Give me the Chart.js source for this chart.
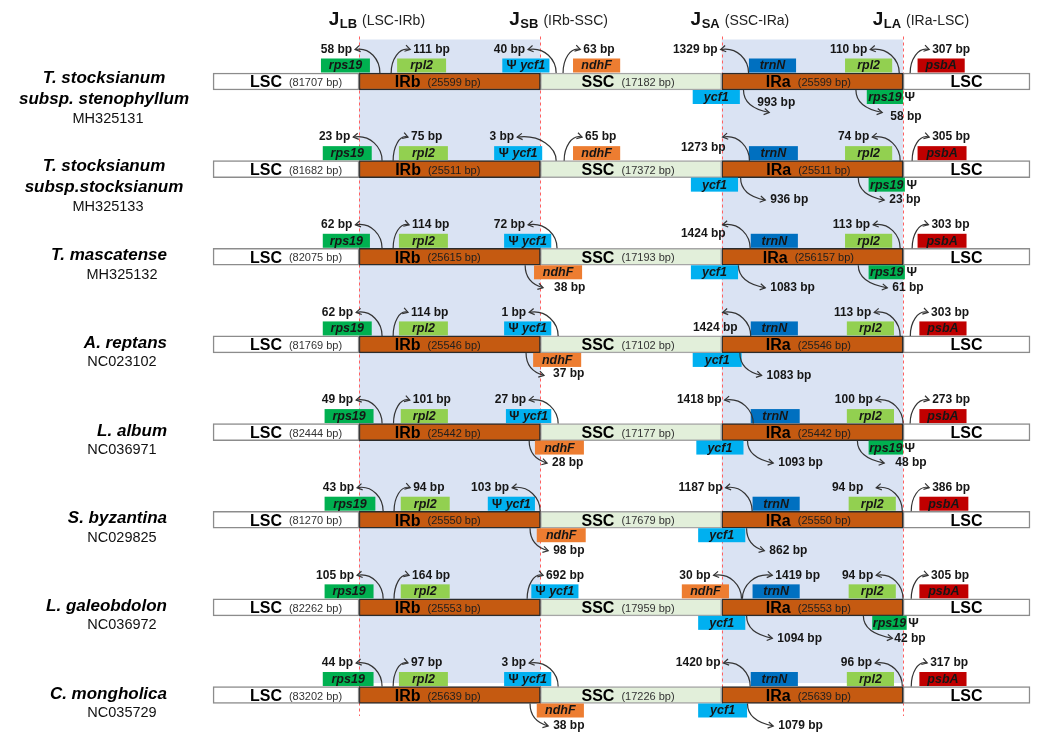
<!DOCTYPE html>
<html lang="en">
<head>
<meta charset="UTF-8">
<title>IR boundaries of Lamiaceae plastomes</title>
<script src="https://cdn.jsdelivr.net/npm/chart.js"></script>
<style>
  html, body { margin: 0; padding: 0; background: #fff; }
  .chart-box { width: 1042px; height: 732px; position: relative; }
</style>
</head>
<body>
<div class="chart-box"><canvas id="irChart"></canvas></div>
<script>
// one row per plastome
const species = [
  ['T. stocksianum', 'subsp. stenophyllum'],
  ['T. stocksianum', 'subsp.stocksianum'],
  ['T. mascatense'],
  ['A. reptans'],
  ['L. album'],
  ['S. byzantina'],
  ['L. galeobdolon'],
  ['C. mongholica']
];
const accessions = ['MH325131', 'MH325133', 'MH325132', 'NC023102', 'NC036971', 'NC029825', 'NC036972', 'NC035729'];

// region lengths (bp)
const lscLen = [81707, 81682, 82075, 81769, 82444, 81270, 82262, 83202];
const irbLen = [25599, 25511, 25615, 25546, 25442, 25550, 25553, 25639];
const sscLen = [17182, 17372, 17193, 17102, 17177, 17679, 17959, 17226];
const iraLen = [25599, 25511, 256157, 25546, 25442, 25550, 25553, 25639];

// schematic axis: junctions JLB, JSB, JSA, JLA at 100, 200, 300, 400
const regionNames = ['LSC', 'IRb', 'SSC', 'IRa', 'LSC'];
const regionEdges = [19.5, 100, 200, 300, 400, 470];
const junctions = [['LB', '(LSC-IRb)'], ['SB', '(IRb-SSC)'], ['SA', '(SSC-IRa)'], ['LA', '(IRa-LSC)']];

// genes next to the junctions: [name, from, to, side (T above / B below), pseudo]
const genes = [
  [['rps19',79,106,'T'],['rpl2',121,148,'T'],['ycf1',179,205,'T','psiIn'],['ndhF',218,244,'T'],['trnN',315,341,'T'],['rpl2',368,394,'T'],['psbA',408,434,'T'],['ycf1',284,310,'B'],['rps19',380,400,'B','psiOut']],
  [['rps19',80,107,'T'],['rpl2',122,149,'T'],['ycf1',174.5,201,'T','psiIn'],['ndhF',218,244,'T'],['trnN',315,342,'T'],['rpl2',368,394,'T'],['psbA',408,435,'T'],['ycf1',283,309,'B'],['rps19',381,401,'B','psiOut']],
  [['rps19',80,106,'T'],['rpl2',122,149,'T'],['ycf1',180,206,'T','psiIn'],['ndhF',196.5,223,'B'],['trnN',316,342,'T'],['rpl2',368,394,'T'],['psbA',408,435,'T'],['ycf1',283,309,'B'],['rps19',381,401,'B','psiOut']],
  [['rps19',80,107,'T'],['rpl2',122,149,'T'],['ycf1',180,206,'T','psiIn'],['ndhF',196,222.5,'B'],['trnN',316,342,'T'],['rpl2',369,395,'T'],['psbA',409,435,'T'],['ycf1',284,311,'B']],
  [['rps19',81,108,'T'],['rpl2',123,149,'T'],['ycf1',181,206,'T','psiIn'],['ndhF',197,224,'B'],['trnN',316,343,'T'],['rpl2',369,395,'T'],['psbA',409,435,'T'],['ycf1',286,312,'B'],['rps19',381,400,'B','psiOut']],
  [['rps19',81,109,'T'],['rpl2',123,150,'T'],['ycf1',171,197,'T','psiIn'],['ndhF',198,225,'B'],['trnN',317,343,'T'],['rpl2',370,396,'T'],['psbA',409,436,'T'],['ycf1',287,313,'B']],
  [['rps19',81,108,'T'],['rpl2',123,150,'T'],['ycf1',195,221,'T','psiIn'],['ndhF',278,304,'T'],['trnN',317,343,'T'],['rpl2',370,396,'T'],['psbA',409,436,'T'],['ycf1',287,313,'B'],['rps19',383,402,'B','psiOut']],
  [['rps19',80,108,'T'],['rpl2',122,149,'T'],['ycf1',180,206,'T','psiIn'],['ndhF',198,224,'B'],['trnN',316,342,'T'],['rpl2',369,395,'T'],['psbA',409,435,'T'],['ycf1',287,314,'B']]
];

// distances to the junctions: [bp, arrow tail, arrow head, U up / D down, label dx, label dy]
const spans = [
  [[58,111.5,97.8,'U'],[111,117.7,128.2,'U'],[40,208.7,193.2,'U'],[63,212.5,222,'U'],[1329,314.8,299.4,'U'],[110,397.9,381.9,'U'],[307,403.9,414.4,'U'],[993,312,326.2,'D',-17,-10],[58,374,388.5,'D',3,4]],
  [[23,112.7,96.8,'U'],[75,118.8,127,'U'],[3,208.7,187.2,'U'],[65,213.1,223,'U'],[1273,315.3,300.5,'U',6,11],[74,398.4,383,'U'],[305,405,414.4,'U'],[936,310.4,324,'D'],[23,375.3,389.6,'D']],
  [[62,112.7,98,'U'],[114,118.8,127.6,'U'],[72,209.2,193.2,'U'],[38,191.6,201.5,'D',6,0],[1424,315.7,300.5,'U',6,9],[113,398.4,383.5,'U'],[303,405,414,'U'],[1083,309.2,324,'D'],[61,375.3,391.3,'D']],
  [[62,112.7,98.4,'U'],[114,118.8,127,'U'],[1,209.8,193.8,'U'],[37,192.1,202,'D',4,-2],[1424,316,300.5,'U',18,15],[113,398.4,384.1,'U'],[303,404,413.8,'U'],[1083,310,322,'D']],
  [[49,112.7,98.4,'U'],[101,119,128,'U'],[27,209.8,193.8,'U'],[28,193.8,203.7,'D'],[1418,317.4,301.6,'U'],[100,400,385,'U'],[273,403.9,414.4,'U'],[1093,314.2,328.4,'D'],[48,374.8,389.6,'D',6,0]],
  [[43,113.3,98.9,'U'],[94,119.3,128.2,'U'],[103,199.9,184.4,'U'],[98,194.3,204.3,'D'],[1187,316.8,302.1,'U'],[94,399.6,385.2,'U',-10,0],[386,404.5,414.4,'U'],[862,313.7,323.5,'D']],
  [[105,113.3,98.9,'U'],[164,119.3,127.6,'U'],[692,192.7,201.5,'U'],[30,310.9,295.5,'U'],[1419,311.4,327.9,'U'],[94,400,385.2,'U'],[305,404.5,413.8,'U'],[1094,313.7,327.9,'D'],[42,378.1,394.1,'D',-3,0]],
  [[44,112.7,98.4,'U'],[97,118.8,127,'U'],[3,209.8,193.8,'U'],[38,194.3,204.3,'D'],[1420,315.7,301,'U'],[96,399.6,384.6,'U'],[317,404.5,413.3,'U'],[1079,314.2,328.4,'D']]
];

const regionFill = ['#ffffff', '#c55a11', '#e2efda', '#c55a11', '#ffffff'];
const regionStroke = ['#8c8c8c', '#2b2b2b', '#a6a6a6', '#2b2b2b', '#8c8c8c'];
const regionLens = [lscLen, irbLen, sscLen, iraLen, null];
const labelShift = [10, -12, -3, -4, 0];
const geneColors = { rps19: '#00b050', rpl2: '#92d050', ycf1: '#00b0f0', ndhF: '#ed7d31', trnN: '#0070c0', psbA: '#c00000' };
const FONT = '"Liberation Sans", Arial, sans-serif';
const BAR = 17;

const diagram = {
  id: 'irDiagram',
  beforeDatasetsDraw(chart) {
    const ctx = chart.ctx;
    const x = chart.scales.x, y = chart.scales.y;
    const top = y.getPixelForValue(0) - 42;
    const bottom = y.getPixelForValue(species.length - 1) - 12;
    ctx.save();
    // inverted repeats shading
    ctx.fillStyle = '#dae3f3';
    [[100, 200], [300, 400]].forEach(([a, b]) => {
      ctx.fillRect(x.getPixelForValue(a), top, x.getPixelForValue(b) - x.getPixelForValue(a), bottom - top);
    });
    // junction lines
    ctx.strokeStyle = '#ff6060';
    ctx.lineWidth = 1;
    ctx.setLineDash([3, 3]);
    [100, 200, 300, 400].forEach(v => {
      const px = Math.round(x.getPixelForValue(v)) + 0.5;
      ctx.beginPath();
      ctx.moveTo(px, top - 3);
      ctx.lineTo(px, y.getPixelForValue(species.length - 1) + 21);
      ctx.stroke();
    });
    ctx.restore();
  },
  afterDatasetsDraw(chart) {
    const ctx = chart.ctx;
    const x = chart.scales.x, y = chart.scales.y;
    ctx.save();
    ctx.textBaseline = 'middle';

    // region names and lengths
    regionNames.forEach((name, r) => {
      const meta = chart.getDatasetMeta(r);
      meta.data.forEach((bar, i) => {
        const lens = regionLens[r];
        const sub = lens ? '(' + lens[i] + ' bp)' : '';
        ctx.font = 'bold 16px ' + FONT;
        const w1 = ctx.measureText(name).width;
        ctx.font = '11px ' + FONT;
        const w2 = sub ? ctx.measureText(sub).width + 7 : 0;
        const cx = (bar.base + bar.x) / 2 + labelShift[r];
        let sx = cx - (w1 + w2) / 2;
        ctx.textAlign = 'left';
        ctx.fillStyle = '#000';
        ctx.font = 'bold 16px ' + FONT;
        ctx.fillText(name, sx, bar.y + 1.5);
        if (sub) {
          ctx.font = '11px ' + FONT;
          ctx.fillStyle = r === 1 || r === 3 ? '#1e1e1e' : '#333';
          ctx.fillText(sub, sx + w1 + 7, bar.y + 1.5);
        }
      });
    });

    // gene boxes
    genes.forEach((row, i) => {
      const c = y.getPixelForValue(i);
      row.forEach(([name, a, b, side, pseudo]) => {
        const x0 = x.getPixelForValue(a), x1 = x.getPixelForValue(b);
        const y0 = side === 'T' ? c - BAR / 2 - 14.5 : c + BAR / 2;
        ctx.fillStyle = geneColors[name];
        ctx.fillRect(x0, y0, x1 - x0, 14);
        ctx.fillStyle = '#161616';
        const cy = y0 + 7.5;
        if (pseudo === 'psiIn') {
          ctx.font = 'bold 12.5px ' + FONT;
          const wp = ctx.measureText('\u03a8 ').width;
          ctx.font = 'italic bold 12.5px ' + FONT;
          const wn = ctx.measureText(name).width;
          const sx = (x0 + x1) / 2 - (wp + wn) / 2;
          ctx.textAlign = 'left';
          ctx.font = 'bold 12.5px ' + FONT;
          ctx.fillText('\u03a8 ', sx, cy);
          ctx.font = 'italic bold 12.5px ' + FONT;
          ctx.fillText(name, sx + wp, cy);
        } else {
          ctx.textAlign = 'center';
          ctx.font = 'italic bold 12.5px ' + FONT;
          ctx.fillText(name, (x0 + x1) / 2, cy);
          if (pseudo === 'psiOut') {
            ctx.textAlign = 'left';
            ctx.font = 'bold 13px ' + FONT;
            ctx.fillText('\u03a8', x1 + 1.5, cy);
          }
        }
      });
    });

    // curved arrows with distances
    ctx.strokeStyle = '#333';
    ctx.lineWidth = 1.2;
    spans.forEach((row, i) => {
      const c = y.getPixelForValue(i);
      row.forEach(([bp, tail, head, dir, dx, dy]) => {
        const tx = x.getPixelForValue(tail), hx = x.getPixelForValue(head);
        const ty = dir === 'U' ? c - BAR / 2 : c + BAR / 2;
        const hy = dir === 'U' ? c - 32 : c + 31;
        const c1x = tx, c1y = ty + (hy - ty) * 0.55;
        const c2x = tx + (hx - tx) * 0.4, c2y = hy - 3;
        ctx.beginPath();
        ctx.moveTo(tx, ty);
        ctx.bezierCurveTo(c1x, c1y, c2x, c2y, hx, hy);
        ctx.stroke();
        const ang = Math.atan2(hy - c2y, hx - c2x);
        ctx.beginPath();
        ctx.moveTo(hx - 6 * Math.cos(ang - 0.55), hy - 6 * Math.sin(ang - 0.55));
        ctx.lineTo(hx, hy);
        ctx.lineTo(hx - 6 * Math.cos(ang + 0.55), hy - 6 * Math.sin(ang + 0.55));
        ctx.stroke();

        ctx.font = 'bold 12px ' + FONT;
        ctx.fillStyle = '#161616';
        const txt = bp + ' bp';
        let lx, align;
        if (dir === 'U' && hx < tx) { lx = hx - 3; align = 'right'; }
        else if (dir === 'U') { lx = hx + 3; align = 'left'; }
        else { lx = hx + 5; align = 'left'; }
        ctx.textAlign = align;
        ctx.fillText(txt, lx + (dx || 0), hy + (dy || 0));
      });
    });

    // species and accession numbers
    species.forEach((name, i) => {
      const c = y.getPixelForValue(i);
      ctx.fillStyle = '#000';
      if (name.length === 2) {
        ctx.textAlign = 'center';
        ctx.font = 'italic bold 17px ' + FONT;
        ctx.fillText(name[0], 104, c - 3);
        ctx.fillText(name[1], 104, c + 18);
        ctx.font = '14.5px ' + FONT;
        ctx.fillStyle = '#111';
        ctx.fillText(accessions[i], 108, c + 37.5);
      } else {
        ctx.textAlign = 'right';
        ctx.font = 'italic bold 17px ' + FONT;
        ctx.fillText(name[0], 167, c - 1);
        ctx.textAlign = 'center';
        ctx.font = '14.5px ' + FONT;
        ctx.fillStyle = '#111';
        ctx.fillText(accessions[i], 122, c + 18);
      }
    });

    // junction headers
    ctx.textBaseline = 'alphabetic';
    junctions.forEach(([sub, desc], j) => {
      const jx = x.getPixelForValue(100 * (j + 1));
      ctx.fillStyle = '#111';
      ctx.textAlign = 'right';
      ctx.font = 'bold 13px ' + FONT;
      ctx.fillText(sub, jx - 2, 28);
      const ws = ctx.measureText(sub).width;
      ctx.font = 'bold 19px ' + FONT;
      ctx.fillText('J', jx - 2 - ws - 0.5, 25);
      ctx.textAlign = 'left';
      ctx.font = '14px ' + FONT;
      ctx.fillStyle = '#222';
      ctx.fillText(desc, jx + 3, 25);
    });
    ctx.restore();
  }
};

const chart = new Chart(document.getElementById('irChart'), {
  type: 'bar',
  data: {
    labels: species.map(s => s.join(' ')),
    datasets: regionNames.map((name, r) => ({
      label: name,
      data: species.map(() => [regionEdges[r], regionEdges[r + 1]]),
      backgroundColor: regionFill[r],
      borderColor: regionStroke[r],
      borderWidth: 1.5,
      borderSkipped: false,
      barThickness: BAR,
      grouped: false,
      clip: false
    }))
  },
  options: {
    indexAxis: 'y',
    responsive: true,
    maintainAspectRatio: false,
    animation: false,
    events: [],
    layout: { padding: { left: 177.7, right: 12, top: 81.5, bottom: 37 } },
    scales: {
      x: { type: 'linear', display: false, min: 0, max: 470 },
      y: { type: 'category', display: false, offset: false, grid: { offset: false } }
    },
    plugins: {
      legend: { display: false },
      tooltip: { enabled: false }
    }
  },
  plugins: [diagram]
});
</script>
</body>
</html>
